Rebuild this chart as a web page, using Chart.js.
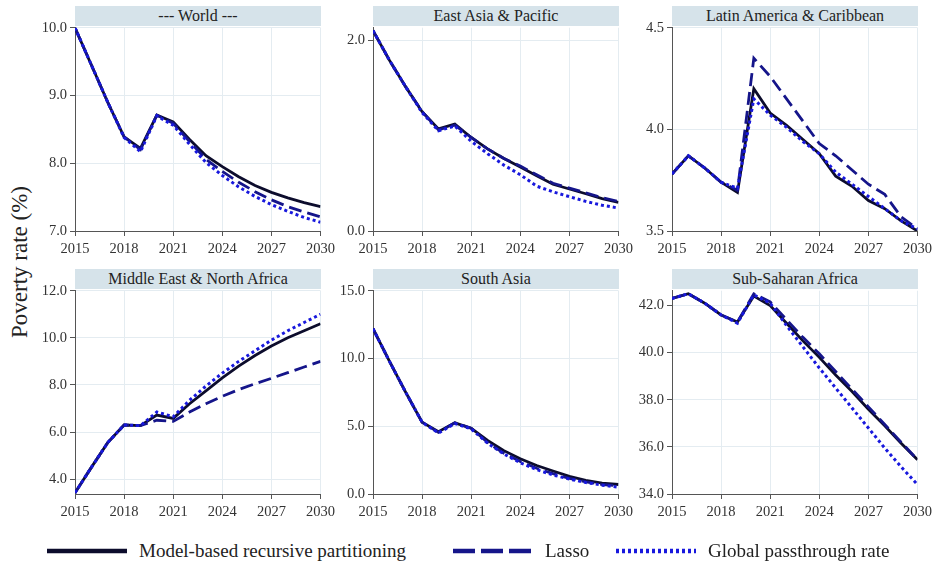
<!DOCTYPE html>
<html>
<head>
<meta charset="utf-8">
<script src="https://cdn.jsdelivr.net/npm/chart.js@4.4.0/dist/chart.umd.min.js"></script>
<style>
  body { margin: 0; background: #fff; width: 937px; height: 567px; position: relative; overflow: hidden; font-family: 'Liberation Serif', 'DejaVu Serif', serif; }
  canvas { position: absolute; }
  .strip { position: absolute; height: 20px; line-height: 20px; background: #d6e3ea; color: #222; font-size: 16px; text-align: center; }
  .ytitle { position: absolute; left: 20px; top: 262px; transform: translate(-50%, -50%) rotate(-90deg); font-size: 23px; color: #222; white-space: nowrap; }
  .legend { position: absolute; top: 538px; height: 26px; display: flex; align-items: center; font-size: 19px; color: #222; white-space: nowrap; }
  .legend svg { margin-right: 12px; }
</style>
</head>
<body>
<div class="ytitle">Poverty rate (%)</div>

<script>
// years on the x axis
const years = [2015, 2016, 2017, 2018, 2019, 2020, 2021, 2022, 2023, 2024, 2025, 2026, 2027, 2028, 2029, 2030];
const xTicks = [2015, 2018, 2021, 2024, 2027, 2030];

const seriesNames = ["Model-based recursive partitioning", "Lasso", "Global passthrough rate"];

// --- World ---
const worldMob    = [10.0, 9.45, 8.90, 8.39, 8.22, 8.71, 8.61, 8.35, 8.11, 7.95, 7.80, 7.67, 7.57, 7.49, 7.42, 7.36];
const worldLasso  = [10.0, 9.45, 8.90, 8.39, 8.20, 8.71, 8.59, 8.32, 8.06, 7.88, 7.72, 7.58, 7.46, 7.36, 7.28, 7.21];
const worldGlobal = [10.0, 9.45, 8.90, 8.38, 8.17, 8.70, 8.56, 8.28, 8.01, 7.82, 7.65, 7.51, 7.39, 7.29, 7.20, 7.13];
const worldTicks  = [7, 8, 9, 10];

// East Asia & Pacific
const eapMob    = [2.10, 1.79, 1.51, 1.25, 1.07, 1.12, 0.98, 0.86, 0.76, 0.67, 0.58, 0.49, 0.44, 0.39, 0.34, 0.30];
const eapLasso  = [2.10, 1.79, 1.51, 1.25, 1.06, 1.11, 0.98, 0.86, 0.76, 0.68, 0.59, 0.50, 0.45, 0.40, 0.35, 0.31];
const eapGlobal = [2.10, 1.79, 1.51, 1.24, 1.05, 1.10, 0.94, 0.81, 0.69, 0.59, 0.47, 0.41, 0.36, 0.31, 0.27, 0.24];
const eapTicks  = [0, 2];

// Latin America & Caribbean
const lacMob    = [3.78, 3.87, 3.81, 3.74, 3.69, 4.20, 4.08, 4.02, 3.95, 3.88, 3.77, 3.72, 3.65, 3.61, 3.55, 3.50];
const lacLasso  = [3.78, 3.87, 3.81, 3.74, 3.70, 4.35, 4.26, 4.15, 4.04, 3.93, 3.87, 3.80, 3.73, 3.68, 3.57, 3.51];
const lacGlobal = [3.78, 3.87, 3.81, 3.74, 3.71, 4.15, 4.07, 4.01, 3.94, 3.88, 3.79, 3.73, 3.67, 3.61, 3.55, 3.51];
const lacTicks  = [3.5, 4.0, 4.5];

// Middle East & North Africa
const menaMob    = [3.42, 4.50, 5.55, 6.30, 6.27, 6.72, 6.58, 7.20, 7.75, 8.30, 8.80, 9.25, 9.65, 10.00, 10.30, 10.60];
const menaLasso  = [3.42, 4.50, 5.55, 6.30, 6.27, 6.50, 6.45, 6.85, 7.20, 7.52, 7.80, 8.05, 8.28, 8.52, 8.76, 9.00];
const menaGlobal = [3.42, 4.50, 5.55, 6.30, 6.27, 6.85, 6.65, 7.35, 7.95, 8.50, 9.00, 9.45, 9.90, 10.30, 10.65, 11.00];
const menaTicks  = [4, 6, 8, 10, 12];

// South Asia
const saMob    = [12.2, 9.8, 7.5, 5.3, 4.6, 5.25, 4.85, 3.95, 3.2, 2.6, 2.1, 1.7, 1.3, 1.0, 0.8, 0.7];
const saLasso  = [12.2, 9.8, 7.5, 5.3, 4.55, 5.25, 4.85, 3.8, 3.0, 2.4, 1.9, 1.5, 1.15, 0.9, 0.7, 0.6];
const saGlobal = [12.2, 9.8, 7.5, 5.3, 4.5, 5.2, 4.8, 3.75, 2.95, 2.3, 1.8, 1.4, 1.1, 0.85, 0.65, 0.5];
const saTicks  = [0, 5, 10, 15];

// Sub-Saharan Africa
const ssaMob    = [42.3, 42.5, 42.1, 41.6, 41.3, 42.4, 42.0, 41.25, 40.5, 39.8, 39.05, 38.35, 37.6, 36.9, 36.15, 35.45];
const ssaLasso  = [42.3, 42.5, 42.1, 41.6, 41.3, 42.5, 42.15, 41.4, 40.65, 39.95, 39.2, 38.45, 37.7, 36.95, 36.2, 35.45];
const ssaGlobal = [42.3, 42.5, 42.1, 41.6, 41.25, 42.45, 42.1, 41.15, 40.25, 39.35, 38.5, 37.65, 36.8, 35.95, 35.15, 34.4];
const ssaTicks  = [34, 36, 38, 40, 42];

const panels = [
  { title: "--- World ---", mob: worldMob, lasso: worldLasso, glob: worldGlobal, ticks: worldTicks, min: 7, max: 10 },
  { title: "East Asia & Pacific", mob: eapMob, lasso: eapLasso, glob: eapGlobal, ticks: eapTicks, min: 0, max: 2.13 },
  { title: "Latin America & Caribbean", mob: lacMob, lasso: lacLasso, glob: lacGlobal, ticks: lacTicks, min: 3.5, max: 4.5 },
  { title: "Middle East & North Africa", mob: menaMob, lasso: menaLasso, glob: menaGlobal, ticks: menaTicks, min: 3.37, max: 12 },
  { title: "South Asia", mob: saMob, lasso: saLasso, glob: saGlobal, ticks: saTicks, min: 0, max: 15 },
  { title: "Sub-Saharan Africa", mob: ssaMob, lasso: ssaLasso, glob: ssaGlobal, ticks: ssaTicks, min: 34, max: 42.63 }
];

// layout
const colX = [75, 373, 672];
const rowY = [26, 289];
const PLOT_W = 246, PLOT_H = 205;
const PAD_L = 56, PAD_T = 10, PAD_R = 18, PAD_B = 32;

const colors = { mob: "#0c0c2c", lasso: "#15158a", glob: "#1818dd" };
const gridColor = "#e4ecf1";
const axisColor = "#555";
const tickFont = { family: "'Liberation Serif', 'DejaVu Serif', serif", size: 14.5 };

panels.forEach((p, i) => {
  const c = i % 3, r = Math.floor(i / 3);
  const strip = document.createElement("div");
  strip.className = "strip";
  strip.style.left = colX[c] + "px";
  strip.style.top = (rowY[r] - 20) + "px";
  strip.style.width = PLOT_W + "px";
  strip.textContent = p.title;
  document.body.appendChild(strip);

  const cv = document.createElement("canvas");
  cv.width = PLOT_W + PAD_L + PAD_R;
  cv.height = PLOT_H + PAD_T + PAD_B;
  cv.style.left = (colX[c] - PAD_L) + "px";
  cv.style.top = (rowY[r] - PAD_T) + "px";
  document.body.appendChild(cv);

  const pts = arr => arr.map((v, k) => ({ x: years[k], y: v }));

  new Chart(cv, {
    type: "line",
    data: {
      datasets: [
        { label: seriesNames[0], data: pts(p.mob), borderColor: colors.mob, borderWidth: 2.8, order: 3 },
        { label: seriesNames[1], data: pts(p.lasso), borderColor: colors.lasso, borderWidth: 2.8, borderDash: [13, 6], order: 2 },
        { label: seriesNames[2], data: pts(p.glob), borderColor: colors.glob, borderWidth: 3, borderDash: [3, 3], order: 1 }
      ]
    },
    options: {
      responsive: false,
      animation: false,
      layout: { padding: { top: PAD_T, right: PAD_R, left: 0, bottom: 0 } },
      plugins: { legend: { display: false }, tooltip: { enabled: false } },
      elements: { point: { radius: 0 }, line: { tension: 0, fill: false } },
      scales: {
        x: {
          type: "linear", min: 2015, max: 2030,
          afterBuildTicks: s => { s.ticks = xTicks.map(v => ({ value: v })); },
          afterFit: s => { s.height = PAD_B; },
          ticks: { callback: v => String(v), font: tickFont, color: "#333", padding: 4, maxRotation: 0, autoSkip: false },
          grid: { color: gridColor, tickColor: axisColor, tickLength: 5 },
          border: { color: axisColor }
        },
        y: {
          min: p.min, max: p.max,
          afterBuildTicks: s => { s.ticks = p.ticks.map(v => ({ value: v })); },
          afterFit: s => { s.width = PAD_L; },
          ticks: { callback: v => Number(v).toFixed(1), font: tickFont, color: "#333", padding: 3, autoSkip: false },
          grid: { color: gridColor, tickColor: axisColor, tickLength: 5 },
          border: { color: axisColor }
        }
      }
    }
  });
});

// legend built from the series names
const legendDefs = [
  { left: 47, dash: "", width: 4.5, color: colors.mob },
  { left: 453, dash: "22 6", width: 4.5, color: colors.lasso },
  { left: 616, dash: "3 3", width: 4.5, color: colors.glob }
];
legendDefs.forEach((d, i) => {
  const el = document.createElement("div");
  el.className = "legend";
  el.style.left = d.left + "px";
  el.innerHTML = '<svg width="80" height="10"><line x1="0" y1="5" x2="80" y2="5" stroke="' + d.color +
    '" stroke-width="' + d.width + '"' + (d.dash ? ' stroke-dasharray="' + d.dash + '"' : '') + '/></svg>';
  const span = document.createElement("span");
  span.textContent = seriesNames[i];
  el.appendChild(span);
  document.body.appendChild(el);
});
</script>
</body>
</html>
